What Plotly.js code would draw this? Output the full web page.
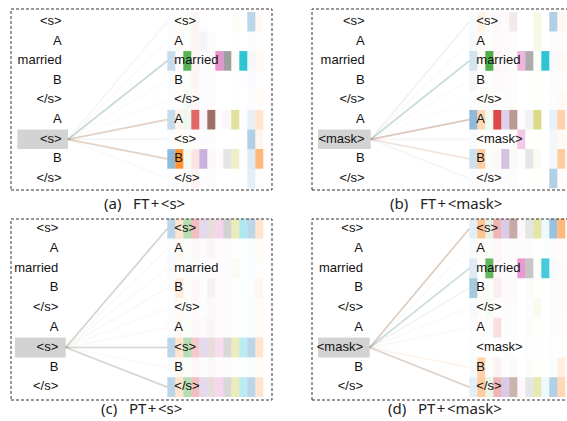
<!DOCTYPE html>
<html>
<head>
<meta charset="utf-8">
<script src="https://cdn.plot.ly/plotly-3.0.1.min.js"></script>
<style>html,body{margin:0;padding:0;background:#fff;}#chart{width:567px;height:421px;}</style>
</head>
<body>
<div id="chart"></div>
<script>
// ---------- data ----------
const tokensS = ['<s>', 'A', 'married', 'B', '</s>', 'A', '<s>', 'B', '</s>'];
const tokensMask = ['<s>', 'A', 'married', 'B', '</s>', 'A', '<mask>', 'B', '</s>'];
const queryIndex = 6;
const captions = ['(a)  FT+<s>', '(b)  FT+<mask>', '(c)  PT+<s>', '(d)  PT+<mask>'];
const headColors = ['#1f77b4', '#ff7f0e', '#2ca02c', '#d62728', '#9467bd', '#8c564b',
                    '#e377c2', '#7f7f7f', '#bcbd22', '#17becf', '#1f77b4', '#ff7f0e'];

// attention: one row per key token, 12 heads per row
const attnFTs = [
  [0.02,0.02,0.02,0.05,0.02,0.00,0.00,0.00,0.04,0.00,0.30,0.06],
  [0.02,0.02,0.02,0.05,0.08,0.02,0.00,0.00,0.02,0.00,0.02,0.02],
  [0.25,0.02,0.80,0.05,0.03,0.03,0.80,0.75,0.03,0.90,0.05,0.05],
  [0.03,0.02,0.02,0.05,0.02,0.02,0.00,0.00,0.02,0.00,0.03,0.02],
  [0.02,0.02,0.06,0.04,0.02,0.02,0.00,0.00,0.02,0.00,0.02,0.03],
  [0.25,0.08,0.08,0.70,0.06,0.85,0.02,0.05,0.45,0.02,0.10,0.20],
  [0.02,0.03,0.02,0.02,0.02,0.02,0.00,0.00,0.02,0.00,0.35,0.08],
  [0.50,0.85,0.05,0.12,0.50,0.04,0.02,0.20,0.25,0.02,0.15,0.55],
  [0.02,0.02,0.02,0.06,0.02,0.02,0.00,0.00,0.02,0.00,0.12,0.02]
];
const attnFTmask = [
  [0.03,0.10,0.02,0.04,0.03,0.12,0.00,0.00,0.12,0.00,0.35,0.06],
  [0.04,0.03,0.02,0.03,0.03,0.02,0.00,0.00,0.10,0.00,0.02,0.02],
  [0.20,0.03,0.85,0.05,0.04,0.02,0.55,0.65,0.02,0.90,0.04,0.05],
  [0.06,0.02,0.02,0.03,0.03,0.02,0.00,0.00,0.02,0.00,0.02,0.02],
  [0.02,0.02,0.02,0.02,0.02,0.02,0.00,0.00,0.02,0.00,0.02,0.05],
  [0.50,0.30,0.06,0.85,0.30,0.60,0.02,0.10,0.55,0.00,0.10,0.35],
  [0.03,0.02,0.02,0.02,0.02,0.02,0.40,0.00,0.02,0.00,0.06,0.05],
  [0.22,0.40,0.02,0.04,0.40,0.03,0.02,0.20,0.06,0.00,0.05,0.40],
  [0.02,0.02,0.02,0.02,0.02,0.02,0.00,0.00,0.02,0.00,0.35,0.02]
];
const attnPTs = [
  [0.30,0.20,0.35,0.30,0.25,0.20,0.30,0.35,0.30,0.35,0.30,0.20],
  [0.03,0.06,0.02,0.04,0.03,0.05,0.02,0.02,0.02,0.02,0.02,0.03],
  [0.04,0.03,0.02,0.02,0.02,0.02,0.02,0.02,0.06,0.02,0.02,0.02],
  [0.02,0.15,0.02,0.04,0.02,0.08,0.02,0.02,0.02,0.02,0.02,0.08],
  [0.02,0.05,0.02,0.03,0.02,0.04,0.02,0.02,0.02,0.02,0.02,0.03],
  [0.02,0.06,0.02,0.04,0.03,0.05,0.02,0.02,0.02,0.02,0.02,0.03],
  [0.30,0.20,0.35,0.25,0.25,0.20,0.25,0.30,0.30,0.30,0.30,0.20],
  [0.02,0.06,0.02,0.04,0.02,0.04,0.02,0.02,0.02,0.02,0.02,0.03],
  [0.30,0.20,0.35,0.30,0.25,0.20,0.30,0.30,0.30,0.30,0.30,0.20]
];
const attnPTmask = [
  [0.12,0.45,0.12,0.35,0.35,0.50,0.06,0.20,0.40,0.08,0.45,0.55],
  [0.03,0.03,0.02,0.04,0.02,0.02,0.02,0.02,0.02,0.02,0.02,0.02],
  [0.15,0.02,0.75,0.04,0.03,0.02,0.75,0.45,0.02,0.80,0.03,0.03],
  [0.40,0.02,0.02,0.08,0.03,0.03,0.00,0.03,0.02,0.00,0.02,0.03],
  [0.04,0.02,0.04,0.02,0.03,0.02,0.00,0.02,0.08,0.00,0.02,0.03],
  [0.02,0.02,0.02,0.15,0.02,0.02,0.00,0.02,0.02,0.00,0.02,0.02],
  [0.01,0.01,0.01,0.01,0.01,0.01,0.00,0.01,0.01,0.00,0.01,0.01],
  [0.03,0.35,0.02,0.06,0.02,0.03,0.00,0.02,0.02,0.00,0.02,0.12],
  [0.12,0.40,0.10,0.35,0.35,0.45,0.05,0.20,0.35,0.08,0.35,0.30]
];

// ---------- layout geometry (pixels) ----------
const W = 567, H = 421;
const COLW = 8;
const panels = [
  {attn: attnFTs,    tokens: tokensS,    col0: 167.3, px0: 0,     px1: 283.5, py0: 0,   py1: 210, rowC: 21.7,  pitch: 19.6, anchor: 61.7,  boxL: 17.3, boxR: 68.0,  box: [11, 272, 9, 190],    cap: [144, 203]},
  {attn: attnFTmask, tokens: tokensMask, col0: 469.3, px0: 283.5, px1: 567,   py0: 0,   py1: 210, rowC: 21.7,  pitch: 19.6, anchor: 364.7, boxL: 318,  boxR: 370.7, box: [312, 575, 9, 190],   cap: [445.5, 203]},
  {attn: attnPTs,    tokens: tokensS,    col0: 167.3, px0: 0,     px1: 283.5, py0: 210, py1: 421, rowC: 228.7, pitch: 19.8, anchor: 58.3,  boxL: 15,   boxR: 65.7,  box: [11, 272, 219, 400],  cap: [141, 408]},
  {attn: attnPTmask, tokens: tokensMask, col0: 469.3, px0: 283.5, px1: 567,   py0: 210, py1: 421, rowC: 228.7, pitch: 19.8, anchor: 363,   boxL: 318,  boxR: 369.7, box: [312, 575, 219, 400], cap: [445, 408]}
];

function esc(s) { return s.replace(/&/g, '&amp;').replace(/</g, '&lt;').replace(/>/g, '&gt;'); }
function capText(s) { return esc(s).replace(/  /g, '&nbsp;&nbsp;&nbsp;').replace('+', '&#8202;+&#8202;'); }
function hexRgb(h) { return [parseInt(h.slice(1,3),16), parseInt(h.slice(3,5),16), parseInt(h.slice(5,7),16)]; }
function rgba(h, a) { const c = hexRgb(h); return `rgba(${c[0]},${c[1]},${c[2]},${a})`; }

const LINE_K = 0.11;
function lineColor(weights) {
  let c = [255, 255, 255], keep = 1;
  weights.forEach((w, h) => {
    const a = Math.min(1, LINE_K * w);
    const hc = hexRgb(headColors[h]);
    c = c.map((v, i) => v * (1 - a) + hc[i] * a);
    keep *= (1 - a);
  });
  const A = Math.max(0.035, 1 - keep);
  const col = c.map(v => Math.max(0, Math.min(255, Math.round((v - 255 * (1 - A)) / A))));
  return `rgba(${col[0]},${col[1]},${col[2]},${Math.min(1, A * 1.1).toFixed(3)})`;
}

const traces = [];
const layout = {
  width: W, height: H, margin: {l: 0, r: 0, t: 0, b: 0},
  paper_bgcolor: '#fff', plot_bgcolor: 'rgba(0,0,0,0)',
  showlegend: false, barmode: 'overlay',
  shapes: [], annotations: []
};
const fontTok = {family: 'Liberation Sans, Arial, sans-serif', size: 13, color: '#111'};

panels.forEach((p, i) => {
  const n = i + 1;
  const xa = 'x' + (n === 1 ? '' : n), ya = 'y' + (n === 1 ? '' : n);
  const xk = 'xaxis' + (n === 1 ? '' : n), yk = 'yaxis' + (n === 1 ? '' : n);
  const cx = p.col0 + COLW / 2;
  const u = px => (px - cx) / COLW;              // pixel -> head units
  const r = py => (py - p.rowC) / p.pitch;       // pixel -> row units
  layout[xk] = {domain: [p.px0 / W, p.px1 / W], range: [u(p.px0), u(p.px1)], visible: false, fixedrange: true};
  layout[yk] = {domain: [1 - p.py1 / H, 1 - p.py0 / H], range: [r(p.py1), r(p.py0)], visible: false, fixedrange: true};
  if (n > 1) { layout[xk].anchor = ya; layout[yk].anchor = xa; }

  // cells
  const bx = [], bb = [], bc = [];
  p.attn.forEach((row, k) => row.forEach((v, h) => { bx.push(h); bb.push(k - 0.5); bc.push(rgba(headColors[h], v)); }));
  traces.push({type: 'bar', x: bx, y: bx.map(() => 1), base: bb, width: 1, xaxis: xa, yaxis: ya,
               marker: {color: bc, line: {width: 0}}, hoverinfo: 'skip'});

  // lines from query token to every key token
  p.attn.forEach((row, k) => {
    traces.push({type: 'scatter', mode: 'lines', x: [u(p.boxR), -0.5], y: [queryIndex, k], xaxis: xa, yaxis: ya,
                 line: {color: lineColor(row), width: 1.7}, hoverinfo: 'skip'});
  });

  // tokens
  const txt = p.tokens.map(esc);
  traces.push({type: 'scatter', mode: 'text', x: p.tokens.map(() => u(p.anchor)), y: p.tokens.map((t, k) => k),
               text: txt, textposition: 'middle left', textfont: fontTok, xaxis: xa, yaxis: ya, hoverinfo: 'skip'});
  traces.push({type: 'scatter', mode: 'text', x: p.tokens.map(() => u(p.col0 + 7)), y: p.tokens.map((t, k) => k),
               text: txt, textposition: 'middle right', textfont: fontTok, xaxis: xa, yaxis: ya, hoverinfo: 'skip'});

  // query highlight
  layout.shapes.push({type: 'rect', xref: xa, yref: ya, x0: u(p.boxL), x1: u(p.boxR), y0: queryIndex - 0.5, y1: queryIndex + 0.5,
                      fillcolor: '#d3d3d3', line: {width: 0}, layer: 'below'});
  // dashed frame
  layout.shapes.push({type: 'rect', xref: 'paper', yref: 'paper', x0: p.box[0] / W, x1: p.box[1] / W,
                      y0: 1 - p.box[3] / H, y1: 1 - p.box[2] / H,
                      line: {color: '#333', width: 1, dash: '3px,2px'}, fillcolor: 'rgba(0,0,0,0)'});
  // caption
  layout.annotations.push({xref: 'paper', yref: 'paper', x: p.cap[0] / W, y: 1 - p.cap[1] / H, text: capText(captions[i]),
                           showarrow: false, xanchor: 'center', yanchor: 'middle',
                           font: {family: 'Noto Sans, Open Sans, sans-serif', size: 15, color: '#222'}});
});

Plotly.newPlot('chart', traces, layout, {staticPlot: true, displayModeBar: false});
</script>
</body>
</html>
